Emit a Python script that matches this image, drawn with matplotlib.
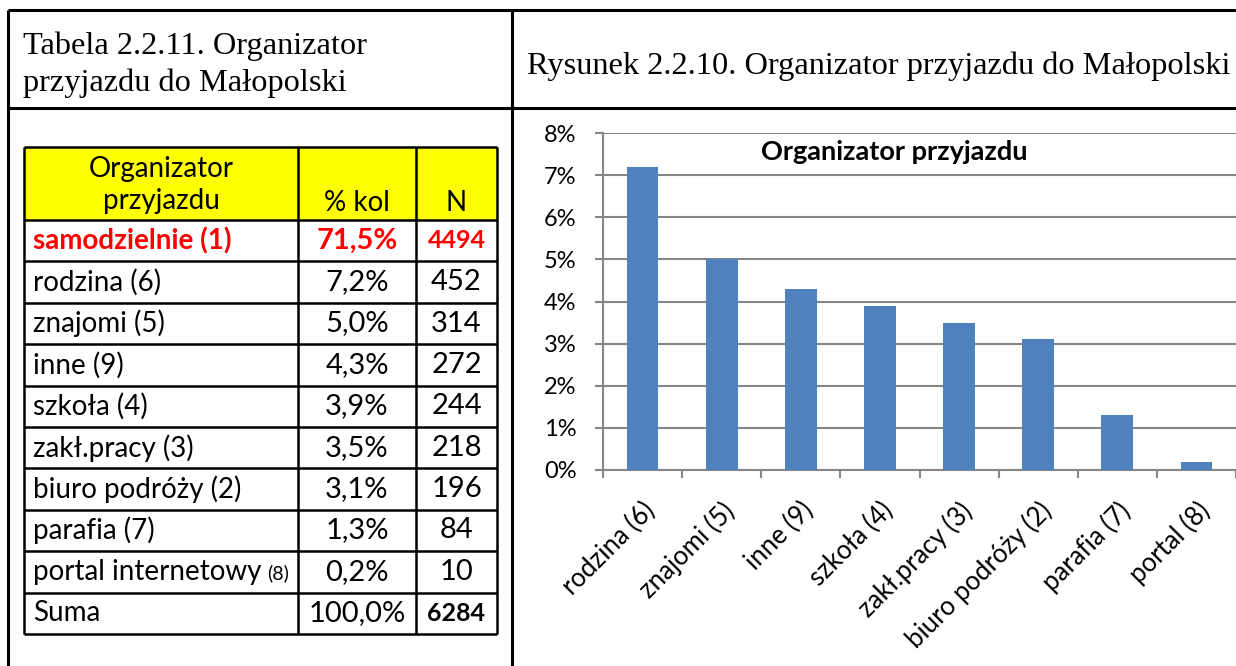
import numpy as np
import matplotlib.pyplot as plt
from matplotlib.lines import Line2D
from matplotlib.patches import Rectangle
from matplotlib.transforms import ScaledTranslation

# table data
organizers = ['samodzielnie (1)', 'rodzina (6)', 'znajomi (5)', 'inne (9)', 'szkoła (4)',
              'zakł.pracy (3)', 'biuro podróży (2)', 'parafia (7)', 'portal internetowy', 'Suma']
pct_labels = ['71,5%', '7,2%', '5,0%', '4,3%', '3,9%', '3,5%', '3,1%', '1,3%', '0,2%', '100,0%']
counts = ['4494', '452', '314', '272', '244', '218', '196', '84', '10', '6284']

# chart data
chart_labels = ['rodzina (6)', 'znajomi (5)', 'inne (9)', 'szkoła (4)', 'zakł.pracy (3)',
                'biuro podróży (2)', 'parafia (7)', 'portal (8)']
chart_values = [7.2, 5.0, 4.3, 3.9, 3.5, 3.1, 1.3, 0.2]

W, H = 1236, 666
fig = plt.figure(figsize=(W / 100, H / 100), dpi=100)

sans = 'Lato'
serif = 'Liberation Serif'

# background axes in pixel coordinates for the page layout
bg = fig.add_axes([0, 0, 1, 1])
bg.set_xlim(0, W)
bg.set_ylim(H, 0)
bg.axis('off')

def line(x0, y0, x1, y1, lw=2.2):
    bg.add_line(Line2D([x0, x1], [y0, y1], color='black', lw=lw, solid_capstyle='butt'))

# outer frame of the document table
line(8, 10, W, 10)
line(8, 108, W, 108)
line(8, 10, 8, H)
line(512, 10, 512, H)

bg.text(23, 65, 'Tabela 2.2.11. Organizator\nprzyjazdu do Małopolski', family=serif,
        fontsize=23.3, va='center', ha='left', linespacing=1.32)
bg.text(527, 66, 'Rysunek 2.2.10. Organizator przyjazdu do Małopolski', family=serif,
        fontsize=23.3, va='center', ha='left')

# inner table
tx = [24, 298, 416, 497]
row_h = 41.4
header_top, header_bot = 147, 220
row_edges = [header_bot + i * row_h for i in range(len(organizers) + 1)]

bg.add_patch(Rectangle((tx[0], header_top), tx[3] - tx[0], header_bot - header_top,
                       facecolor='#FFFF00', edgecolor='none'))
for y in [header_top] + row_edges:
    line(tx[0], y, tx[3], y, lw=1.8)
for x in tx:
    line(x, header_top, x, row_edges[-1], lw=1.8)

fs = 20
nfs = 21
bg.text((tx[0] + tx[1]) / 2, 185, 'Organizator\nprzyjazdu', family=sans, fontsize=fs,
        ha='center', va='center', linespacing=1.3)
bg.text((tx[1] + tx[2]) / 2, 203, '% kol', family=sans, fontsize=fs, ha='center', va='center')
bg.text((tx[2] + tx[3]) / 2, 203, 'N', family=sans, fontsize=fs, ha='center', va='center')

renderer = fig.canvas.get_renderer()
for i, (name, p, n) in enumerate(zip(organizers, pct_labels, counts)):
    yc = (row_edges[i] + row_edges[i + 1]) / 2
    if i == 0:
        kw = dict(color='#FF0000', fontweight='bold')
        nkw = dict(color='#FF0000', fontweight='bold', fontsize=18)
    elif name == 'Suma':
        kw = dict(color='black')
        nkw = dict(color='black', fontweight='bold', fontsize=18)
    else:
        kw = dict(color='black')
        nkw = dict(color='black', fontsize=nfs)
    t = bg.text(tx[0] + 9, yc, name, family=sans, fontsize=fs, ha='left', va='center', **kw)
    if name == 'portal internetowy':
        bb = t.get_window_extent(renderer)
        bg.text(bb.x1 + 6, yc + 1, '(8)', family=sans, fontsize=14, ha='left', va='center')
    bg.text((tx[1] + tx[2]) / 2, yc, p, family=sans, fontsize=nfs, ha='center', va='center', **kw)
    bg.text((tx[2] + tx[3]) / 2, yc, n, family=sans, ha='center', va='center', **nkw)

# bar chart
ax_l, ax_t, ax_b = 603, 133, 470
ax = fig.add_axes([ax_l / W, (H - ax_b) / H, (W - ax_l) / W, (ax_b - ax_t) / H])
x = np.arange(len(chart_values))
ax.bar(x, chart_values, width=0.4, color='#4F81BD', zorder=3)
ax.set_xlim(-0.5, len(chart_values) - 0.5)
ax.set_ylim(0, 8)
ax.set_yticks(range(0, 9))
ax.set_yticklabels([f'{v}%' for v in range(0, 9)], family=sans, fontsize=17)
ax.yaxis.grid(True, color='#868686', lw=1.5, zorder=0)
ax.set_xticks(x)
ax.set_xticklabels(chart_labels, rotation=45, ha='right', rotation_mode='anchor',
                   family=sans, fontsize=18.5)
shift = ScaledTranslation(5 / 100, 0, fig.dpi_scale_trans)
for lab in ax.get_xticklabels():
    lab.set_transform(lab.get_transform() + shift)
ax.set_xticks(np.arange(-0.5, len(chart_values), 1), minor=True)
ax.tick_params(axis='x', which='major', length=0, pad=20)
ax.tick_params(axis='x', which='minor', length=6, width=1.5, color='#868686', direction='out')
ax.tick_params(axis='y', length=6, width=1.5, color='#868686', pad=13)
for s in ['top', 'right']:
    ax.spines[s].set_visible(False)
for s in ['left', 'bottom']:
    ax.spines[s].set_color('#868686')
    ax.spines[s].set_linewidth(1.5)
ax.set_facecolor('none')
ax.text(0.46, 0.944, 'Organizator przyjazdu', transform=ax.transAxes, family=sans,
        fontsize=19.5, fontweight='bold', ha='center', va='center')

fig.savefig('out.png', dpi=100)
